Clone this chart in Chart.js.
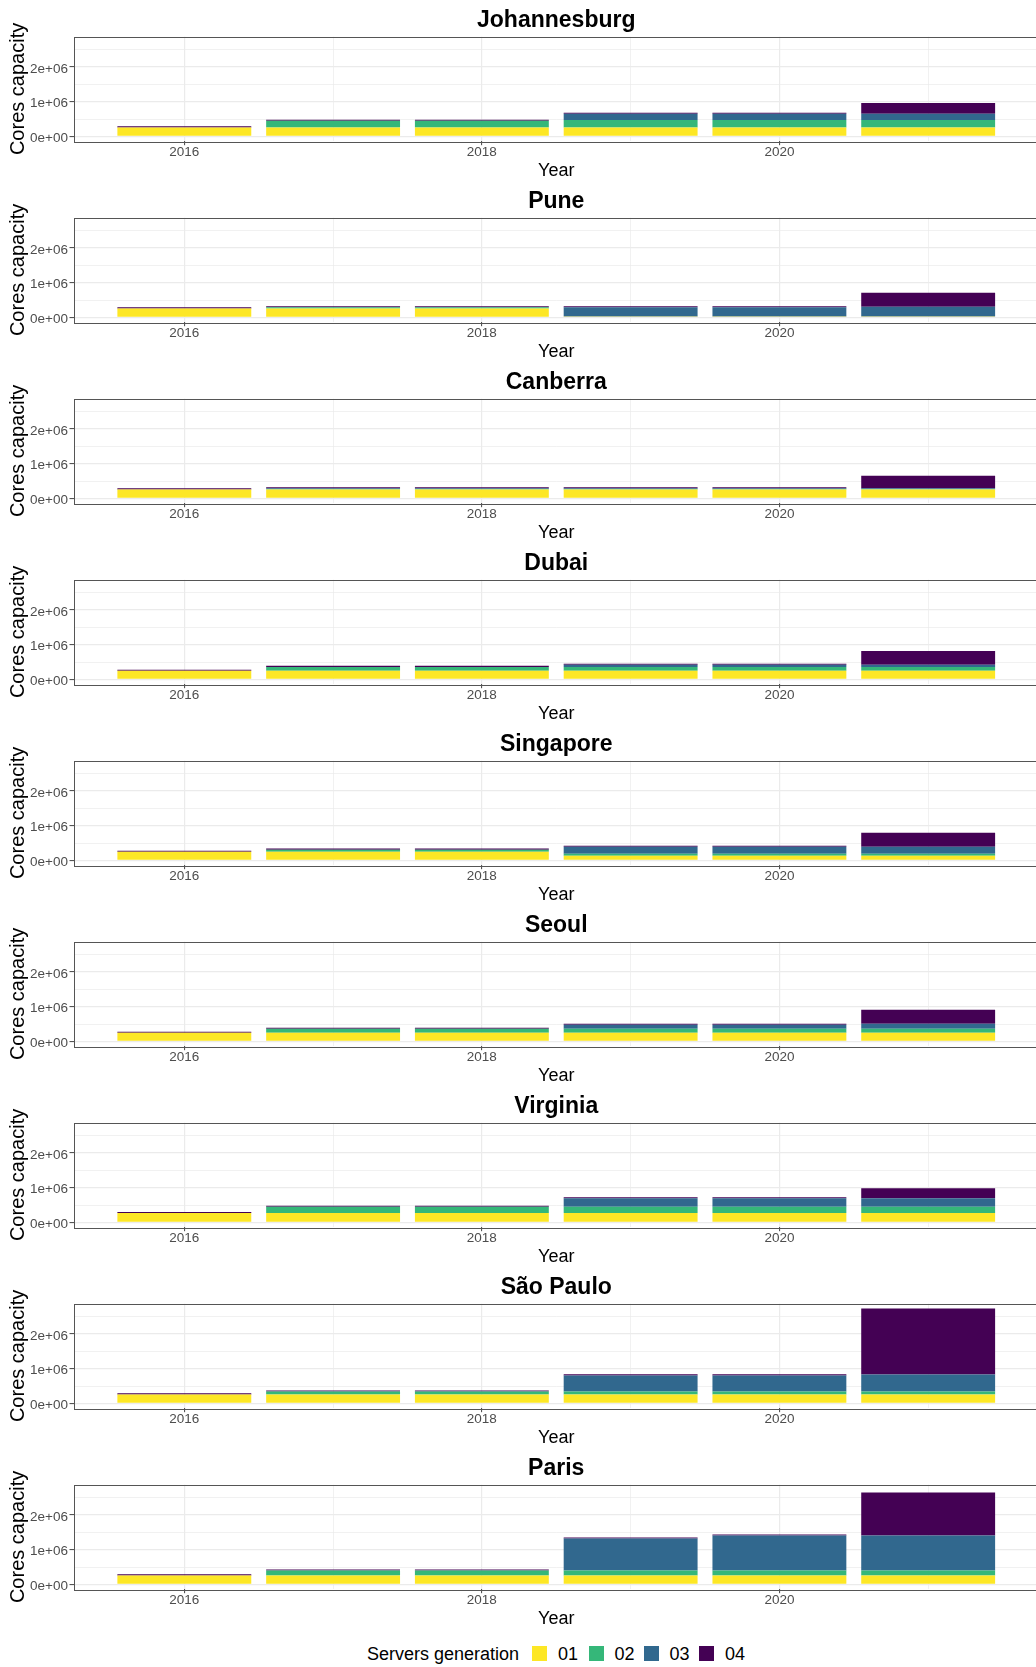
<!DOCTYPE html>
<html>
<head>
<meta charset="utf-8">
<script src="https://cdn.jsdelivr.net/npm/chart.js@4.4.1/dist/chart.umd.min.js"></script>
<style>
  html, body { margin: 0; padding: 0; background: #fff; overflow: hidden; width: 1036px; height: 1667px; }
  .blk { position: absolute; left: 0; width: 1039px; height: 181px; }
  .leg { position: absolute; font-family: 'Liberation Sans', Arial, sans-serif; font-size: 18px; line-height: 18px; color: #000; white-space: nowrap; }
  .key { position: absolute; width: 15px; height: 15px; }
</style>
</head>
<body>
<div id="wrap"></div>
<script>
// ---- data (cores capacity by year and server generation) ----
const years = [2016, 2017, 2018, 2019, 2020, 2021];
const cities = ['Johannesburg', 'Pune', 'Canberra', 'Dubai', 'Singapore', 'Seoul', 'Virginia', 'São Paulo', 'Paris'];
const generations = ['01', '02', '03', '04'];
const genColors = ['#FDE725', '#35B779', '#31688E', '#440154'];
const xTickValues = [2016, 2017, 2018, 2019, 2020, 2021];       // labelled: even years
const yTickValues = [0, 500000, 1000000, 1500000, 2000000, 2500000]; // labelled: whole millions

const johannesburg01 = [260000, 260000, 260000, 260000, 260000, 260000];
const johannesburg02 = [0, 190000, 190000, 210000, 210000, 210000];
const johannesburg03 = [0, 0, 0, 180000, 180000, 180000];
const johannesburg04 = [30000, 30000, 30000, 30000, 30000, 310000];

const pune01 = [260000, 260000, 260000, 30000, 30000, 30000];
const pune02 = [0, 30000, 30000, 0, 0, 0];
const pune03 = [0, 0, 0, 260000, 260000, 280000];
const pune04 = [30000, 30000, 30000, 30000, 30000, 400000];

const canberra01 = [260000, 260000, 260000, 260000, 260000, 260000];
const canberra02 = [0, 10000, 10000, 10000, 10000, 10000];
const canberra03 = [0, 20000, 20000, 20000, 20000, 20000];
const canberra04 = [30000, 30000, 30000, 30000, 30000, 360000];

const dubai01 = [250000, 250000, 250000, 250000, 250000, 250000];
const dubai02 = [0, 110000, 110000, 110000, 110000, 110000];
const dubai03 = [0, 0, 0, 60000, 60000, 60000];
const dubai04 = [30000, 30000, 30000, 30000, 30000, 400000];

const singapore01 = [250000, 250000, 250000, 135000, 135000, 135000];
const singapore02 = [0, 60000, 60000, 60000, 60000, 60000];
const singapore03 = [0, 0, 0, 200000, 200000, 200000];
const singapore04 = [30000, 30000, 30000, 30000, 30000, 400000];

const seoul01 = [250000, 250000, 250000, 250000, 250000, 250000];
const seoul02 = [0, 115000, 115000, 115000, 115000, 115000];
const seoul03 = [0, 0, 0, 115000, 115000, 145000];
const seoul04 = [30000, 30000, 30000, 30000, 30000, 400000];

const virginia01 = [270000, 270000, 270000, 270000, 270000, 270000];
const virginia02 = [0, 180000, 180000, 180000, 180000, 180000];
const virginia03 = [0, 0, 0, 245000, 245000, 245000];
const virginia04 = [30000, 30000, 30000, 30000, 30000, 290000];

const saoPaulo01 = [260000, 260000, 260000, 260000, 260000, 260000];
const saoPaulo02 = [0, 85000, 85000, 85000, 85000, 85000];
const saoPaulo03 = [0, 0, 0, 460000, 460000, 488000];
const saoPaulo04 = [30000, 30000, 30000, 30000, 30000, 1894000];

const paris01 = [260000, 260000, 260000, 260000, 260000, 260000];
const paris02 = [0, 140000, 140000, 140000, 140000, 140000];
const paris03 = [0, 0, 0, 920000, 1007000, 1007000];
const paris04 = [30000, 30000, 30000, 30000, 30000, 1234000];

const cityData = [
  [johannesburg01, johannesburg02, johannesburg03, johannesburg04],
  [pune01, pune02, pune03, pune04],
  [canberra01, canberra02, canberra03, canberra04],
  [dubai01, dubai02, dubai03, dubai04],
  [singapore01, singapore02, singapore03, singapore04],
  [seoul01, seoul02, seoul03, seoul04],
  [virginia01, virginia02, virginia03, virginia04],
  [saoPaulo01, saoPaulo02, saoPaulo03, saoPaulo04],
  [paris01, paris02, paris03, paris04]
];

// shared y range (ggplot default 5% expansion of the largest stacked total)
let maxTotal = 0;
cityData.forEach(g => years.forEach((_, i) => {
  const t = g[0][i] + g[1][i] + g[2][i] + g[3][i];
  if (t > maxTotal) maxTotal = t;
}));
const yMin = -0.05 * maxTotal, yMax = 1.05 * maxTotal;
const xSpan = years[years.length - 1] - years[0] + 0.9;
const xMin = years[0] - 0.45 - 0.05 * xSpan;
const xMax = years[years.length - 1] + 0.45 + 0.05 * xSpan;

const FONT = "'Liberation Sans', Arial, sans-serif";
const BLOCK_H = 181;

const panelBox = {
  id: 'panelBox',
  afterDatasetsDraw(chart) {
    const { ctx, chartArea: a } = chart;
    ctx.save();
    ctx.strokeStyle = '#555555';
    ctx.lineWidth = 1;
    ctx.strokeRect(Math.round(a.left) + 0.5, Math.round(a.top) + 0.5,
                   Math.round(a.right - a.left) - 1, Math.round(a.bottom - a.top));
    ctx.restore();
  }
};

function fmtSci(v) {
  if (v === 0) return '0e+00';
  const e = Math.floor(Math.log10(Math.abs(v)));
  const m = Math.round(v / Math.pow(10, e));
  return m + 'e+' + String(e).padStart(2, '0');
}
const isMajorX = v => v % 2 === 0;
const isMajorY = v => v % 1000000 === 0;

const wrap = document.getElementById('wrap');
cities.forEach((city, ci) => {
  const div = document.createElement('div');
  div.className = 'blk';
  div.style.top = (ci * BLOCK_H) + 'px';
  const cv = document.createElement('canvas');
  cv.width = 1039; cv.height = BLOCK_H;
  cv.style.width = '1039px'; cv.style.height = BLOCK_H + 'px';
  div.appendChild(cv);
  wrap.appendChild(div);

  const datasets = generations.map((g, gi) => ({
    label: g,
    data: years.map((yr, i) => ({ x: yr, y: cityData[ci][gi][i] })),
    backgroundColor: genColors[gi],
    borderWidth: 0,
    barPercentage: 0.9,
    categoryPercentage: 1.0
  }));

  new Chart(cv, {
    type: 'bar',
    data: { datasets },
    plugins: [panelBox],
    options: {
      responsive: false,
      animation: false,
      devicePixelRatio: 1,
      layout: { padding: 0 },
      plugins: {
        legend: { display: false },
        tooltip: { enabled: false },
        title: {
          display: true,
          text: city,
          fullSize: false,
          color: '#000000',
          font: { family: FONT, size: 23, weight: 'bold', lineHeight: 1.2 },
          padding: { top: 7, bottom: 2.1 }
        }
      },
      scales: {
        x: {
          type: 'linear',
          stacked: true,
          min: xMin,
          max: xMax,
          offset: false,
          border: { display: false },
          grid: {
            offset: false,
            color: '#EBEBEB',
            lineWidth: c => (c.tick && isMajorX(c.tick.value)) ? 1.2 : 0.7,
            tickLength: 4,
            tickColor: c => (c.tick && isMajorX(c.tick.value)) ? '#444444' : 'rgba(0,0,0,0)',
            tickWidth: 1
          },
          afterBuildTicks: s => { s.ticks = xTickValues.map(v => ({ value: v })); },
          ticks: {
            autoSkip: false,
            maxRotation: 0,
            padding: 0,
            color: '#4D4D4D',
            font: { family: FONT, size: 13.5, lineHeight: 1 },
            callback: v => (isMajorX(v) ? String(v) : '')
          },
          title: {
            display: true,
            text: 'Year',
            color: '#000000',
            font: { family: FONT, size: 18 },
            padding: { top: 0, bottom: -0.5 }
          },
          afterFit: s => { s.height = 39.8; }
        },
        y: {
          type: 'linear',
          stacked: true,
          min: yMin,
          max: yMax,
          border: { display: false },
          grid: {
            offset: false,
            color: '#EBEBEB',
            lineWidth: c => (c.tick && isMajorY(c.tick.value)) ? 1.2 : 0.7,
            tickLength: 4,
            tickColor: c => (c.tick && isMajorY(c.tick.value)) ? '#444444' : 'rgba(0,0,0,0)',
            tickWidth: 1
          },
          afterBuildTicks: s => { s.ticks = yTickValues.map(v => ({ value: v })); },
          ticks: {
            autoSkip: false,
            padding: 1.5,
            color: '#4D4D4D',
            font: { family: FONT, size: 13.5, lineHeight: 0.3 },
            // an empty first line nudges the label down slightly to centre it on the tick
            callback: v => (isMajorY(v) ? ['', fmtSci(v)] : '')
          },
          title: {
            display: true,
            text: 'Cores capacity',
            color: '#000000',
            font: { family: FONT, size: 20 },
            padding: { top: 6.5, bottom: 0 }
          },
          afterFit: s => { s.width = 73.5; }
        }
      }
    }
  });
});

// ---- legend ----
const legTitle = document.createElement('div');
legTitle.className = 'leg';
legTitle.style.left = '367px';
legTitle.style.top = '1645px';
legTitle.textContent = 'Servers generation';
document.body.appendChild(legTitle);
const keyX = [532, 588.5, 643.5, 699];
generations.forEach((g, gi) => {
  const k = document.createElement('div');
  k.className = 'key';
  k.style.left = keyX[gi] + 'px';
  k.style.top = '1646px';
  k.style.background = genColors[gi];
  document.body.appendChild(k);
  const t = document.createElement('div');
  t.className = 'leg';
  t.style.left = (keyX[gi] + 26) + 'px';
  t.style.top = '1645px';
  t.textContent = g;
  document.body.appendChild(t);
});
</script>
</body>
</html>
